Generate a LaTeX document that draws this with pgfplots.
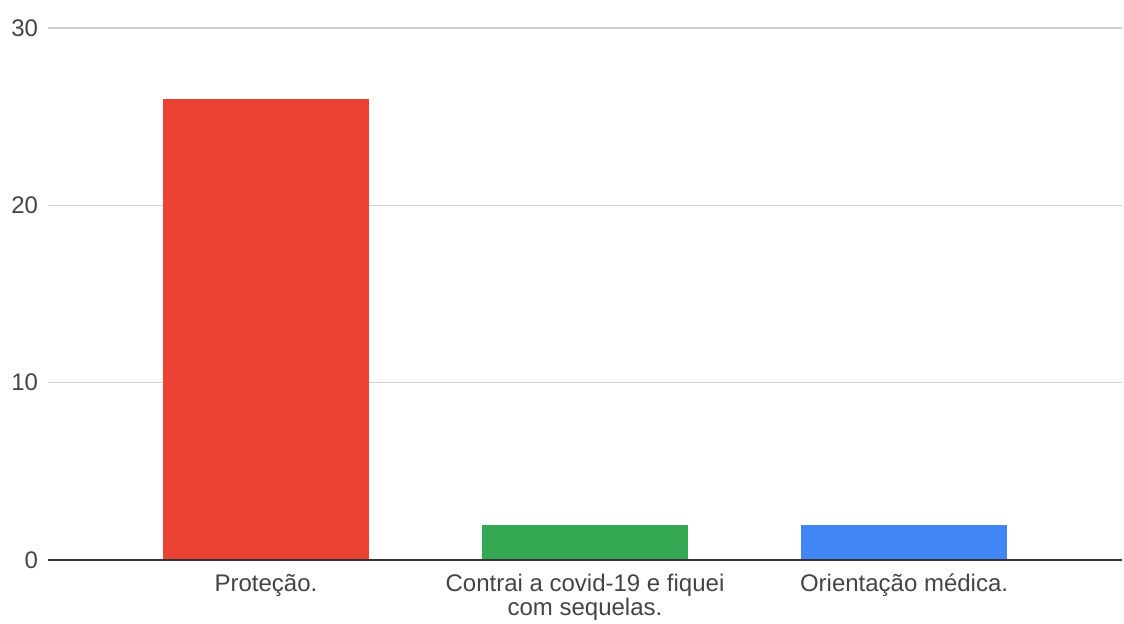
\documentclass[border=0pt]{standalone}
\usepackage{pgfplots}
\pgfplotsset{compat=1.18}
\usepackage{fontspec}
\setmainfont{Liberation Sans}
\definecolor{gred}{HTML}{EA4335}
\definecolor{ggreen}{HTML}{34A853}
\definecolor{gblue}{HTML}{4285F4}
\definecolor{gridgray}{HTML}{D0D0D0}
\definecolor{axisdark}{HTML}{333333}
\definecolor{labelgray}{HTML}{444444}
\begin{document}
\begin{tikzpicture}
\path[use as bounding box] (-36pt,-48pt) rectangle (807pt,420pt);
\begin{axis}[
  at={(0,0)}, anchor=south west,
  scale only axis,
  width=805.5pt, height=399pt,
  xmin=-0.683, xmax=2.683,
  ymin=0, ymax=30,
  ytick={0,10,20,30},
  xtick={0,1,2},
  xticklabels={Proteção., {Contrai a covid-19 e fiquei\\com sequelas.}, Orientação médica.},
  axis line style={draw=none},
  major tick length=0pt,
  ymajorgrids,
  grid style={gridgray, line width=0.8pt},
  ybar, bar width=154.5pt, bar shift=0pt,
  /pgf/number format/assume math mode=true,
  tick label style={font=\fontsize{18}{16}\selectfont, text=labelgray},
  yticklabel style={xshift=-4pt},
  xticklabel style={align=center, yshift=-7pt},
  clip=false,
]
\addplot[fill=gred, draw=none] coordinates {(0,26)};
\addplot[fill=ggreen, draw=none] coordinates {(1,2)};
\addplot[fill=gblue, draw=none] coordinates {(2,2)};
\draw[axisdark, line width=1pt] (rel axis cs:0,0) -- (rel axis cs:1,0);
\end{axis}
\end{tikzpicture}
\end{document}
